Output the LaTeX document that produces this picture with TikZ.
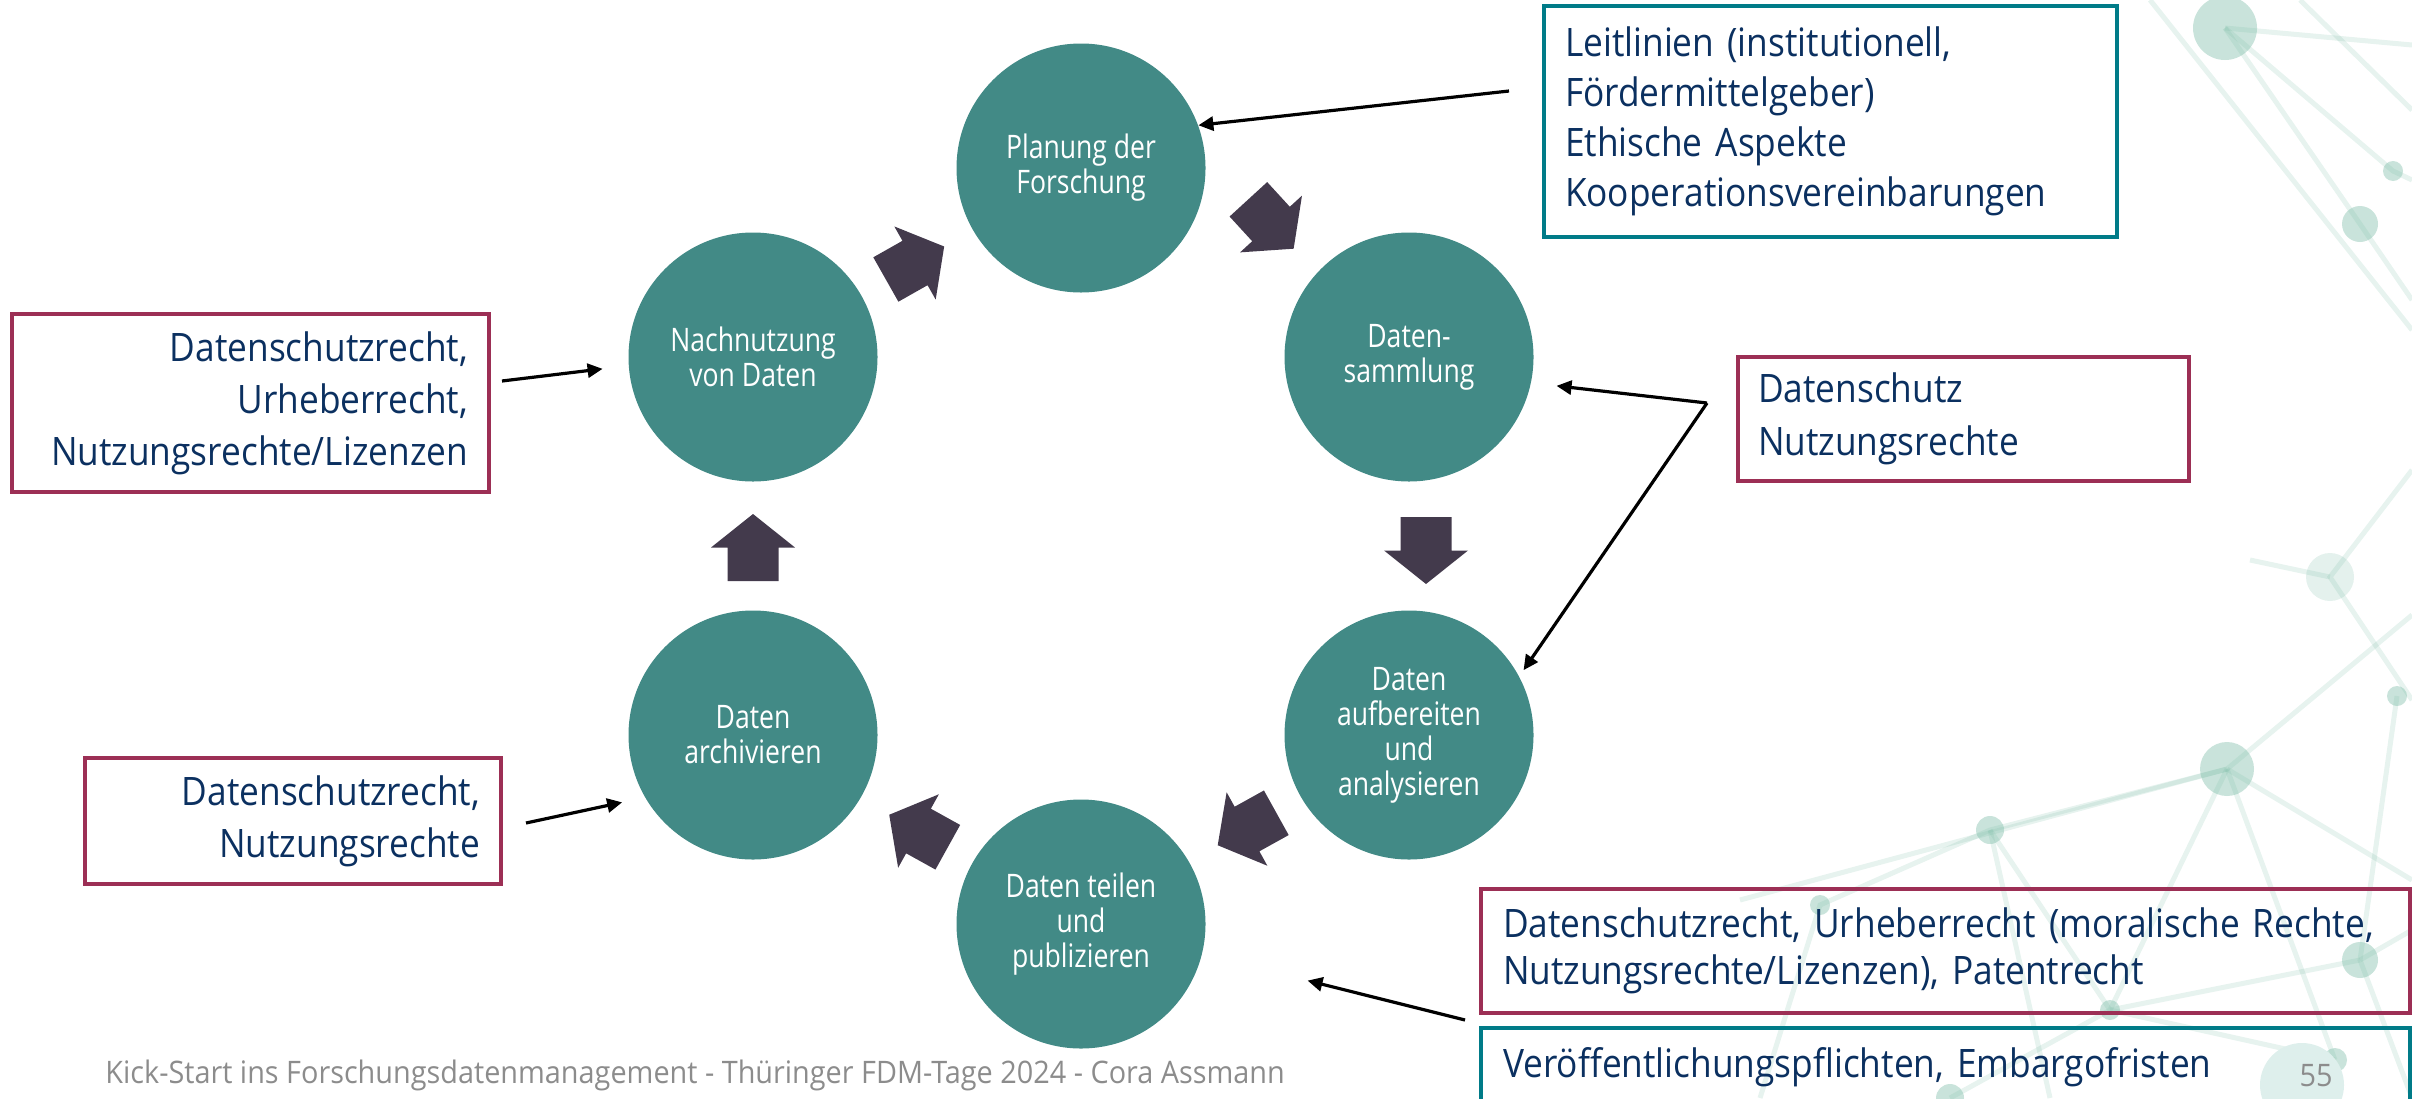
\documentclass[tikz,border=0pt]{standalone}
\usepackage{fontspec}
\setmainfont[FakeStretch=0.9]{Open Sans}
\newfontfamily\kreisfont[FakeStretch=0.82]{Open Sans}
\newfontfamily\fussfont[FakeStretch=0.93]{Open Sans}
\usetikzlibrary{arrows.meta}
\definecolor{kreisgruen}{RGB}{66,138,134}
\definecolor{pfeilgrau}{RGB}{67,58,76}
\definecolor{textblau}{RGB}{11,48,96}
\definecolor{rahmenrot}{RGB}{156,47,85}
\definecolor{rahmentuerkis}{RGB}{0,123,136}
\definecolor{netzgruen}{RGB}{120,186,164}
\definecolor{fussgrau}{RGB}{140,140,140}
\definecolor{seitenkreis}{RGB}{222,239,236}

\begin{document}
\begin{tikzpicture}[x=0.5pt,y=-0.5pt,
  kreis/.style={circle, fill=kreisgruen, minimum size=124.5pt, inner sep=0pt, text=white, align=center, font=\kreisfont\fontsize{16.2}{17.5}\selectfont},
  kasten/.style={draw, line width=2.25pt, outer sep=0pt, inner xsep=10.5pt, inner ysep=0pt, text=textblau, font=\fontsize{19.6}{26}\selectfont},
  zeiger/.style={line width=1.6pt, -{Triangle[length=7.5pt,width=7pt]}},
  netz/.style={netzgruen, line width=2.5pt, opacity=0.18},
  punkt/.style={netzgruen, opacity=0.4}]
\useasboundingbox (0,0) rectangle (2412,1098);
\clip (0,0) rectangle (2412,1098);

% network in the background
\draw[netz] (2225,28) -- (2412,45);
\draw[netz] (2225,28) -- (2360,224) -- (2412,300);
\draw[netz] (2225,28) -- (2393,171) -- (2412,180);
\draw[netz] (2150,0) -- (2412,330);
\draw[netz] (2300,0) -- (2412,110);
\draw[netz] (2412,470) -- (2330,577) -- (2412,700);
\draw[netz] (2330,577) -- (2250,560);
\draw[netz] (1740,900) -- (2227,769) -- (2412,615);
\draw[netz] (2227,769) -- (2412,880);
\draw[netz] (2227,769) -- (1990,830) -- (1820,905) -- (1760,1098);
\draw[netz] (2227,769) -- (2110,1010) -- (1950,1098);
\draw[netz] (2227,769) -- (2335,1060);
\draw[netz] (1990,830) -- (2110,1010) -- (2335,1060);
\draw[netz] (2360,960) -- (2412,930);
\draw[netz] (2360,960) -- (2110,1010);
\draw[netz] (2397,696) -- (2360,960) -- (2412,1098);
\draw[netz] (1990,830) -- (2050,1098);
\fill[punkt] (2225,28) circle (32);
\fill[punkt] (2393,171) circle (10);
\fill[punkt] (2360,224) circle (18);
\fill[punkt, opacity=0.2] (2330,577) circle (24);
\fill[punkt] (2397,696) circle (10);
\fill[punkt] (2227,769) circle (27);
\fill[punkt] (1990,830) circle (14);
\fill[punkt] (1820,905) circle (10);
\fill[punkt] (2360,960) circle (18);
\fill[punkt] (2335,1060) circle (12);
\fill[punkt] (2110,1010) circle (10);
\fill[punkt] (1950,1098) circle (14);

% cycle
\node[kreis] (plan) at (1081,168) {Planung der\\Forschung};
\node[kreis] (samm) at (1409,357) {Daten-\\sammlung};
\node[kreis] (aufb) at (1409,735) {Daten\\aufbereiten\\und\\analysieren};
\node[kreis] (teil) at (1081,924) {Daten teilen\\und\\publizieren};
\node[kreis] (arch) at (753,735) {Daten\\archivieren};
\node[kreis] (nach) at (753,357) {Nachnutzung\\von Daten};

\foreach \cx/\cy/\dreh in {915/263/29.5, 1271/224/-47.5, 1426/550.5/-90, 1247/829/-151, 918.5/831/151, 753/547.5/90}
  \fill[pfeilgrau, shift={(\cx,\cy)}, rotate=\dreh] (-33.5,-25.5) -- (0,-25.5) -- (0,-42) -- (33.5,0) -- (0,42) -- (0,25.5) -- (-33.5,25.5) -- cycle;

% legal aspects
\node[kasten, draw=rahmentuerkis, minimum width=286.5pt, minimum height=115.5pt, text width=265.5pt, align=left, font=\fontsize{19.6}{25}\selectfont] (leitl) at (1830.5,121.5) {Leitlinien (institutionell,\\Fördermittelgeber)\\Ethische Aspekte\\Kooperationsvereinbarungen};
\node[kasten, draw=rahmenrot, minimum width=238.5pt, minimum height=89pt, text width=217.5pt, align=right] (nutzl) at (250.5,403) {Datenschutzrecht,\\Urheberrecht,\\Nutzungsrechte/Lizenzen};
\node[kasten, draw=rahmenrot, minimum width=208pt, minimum height=63pt, text width=187pt, align=right] (archl) at (293,821) {Datenschutzrecht,\\Nutzungsrechte};
\node[kasten, draw=rahmenrot, minimum width=225.5pt, minimum height=62pt, text width=205.5pt, inner xsep=10pt, align=left, font=\fontsize{19.6}{26.5}\selectfont] (schutz) at (1963.5,419) {Datenschutz\\Nutzungsrechte};
\node[kasten, draw=rahmenrot, minimum width=464.5pt, minimum height=62pt, text width=442.5pt, inner xsep=11pt, align=left, font=\fontsize{19.6}{23.5}\selectfont] (recht) at (1945.5,951) {Datenschutzrecht, Urheberrecht (moralische Rechte,\\Nutzungsrechte/Lizenzen), Patentrecht};
\node[kasten, draw=rahmentuerkis, minimum width=464.5pt, minimum height=38pt, text width=442.5pt, inner xsep=11pt, text height=15pt, text depth=4pt, align=left] (pflicht) at (1945.5,1066) {Veröffentlichungspflichten, Embargofristen};

\coordinate (s1) at (1509,91);
\coordinate (s2) at (1707,403);
\coordinate (s3) at (502,381);
\coordinate (s4) at (526,823);
\coordinate (s5) at (1465,1020);
\draw[zeiger] (s1) -- (plan.20);
\draw[zeiger, shorten >=12.75pt] (s2) -- (samm.-12);
\draw[zeiger, shorten >=3.75pt] (s2) -- (aufb.28.5);
\draw[zeiger, shorten >=13pt] (s3) -- (nach.184);
\draw[zeiger, shorten >=11.6pt] (s4) -- (arch.210);
\draw[zeiger, shorten >=54.3pt] (s5) -- (teil.-14.2);

% footer
\node[anchor=base west, inner sep=0pt, text=fussgrau, font=\fussfont\fontsize{15.5}{18}\selectfont] (fuss) at (105,1083) {Kick-Start ins Forschungsdatenmanagement - Thüringer FDM-Tage 2024 - Cora Assmann};
\fill[seitenkreis] (2302,1085) circle (42);
\node[anchor=base, inner sep=0pt, text=fussgrau, font=\fussfont\fontsize{15.5}{18}\selectfont] (seite) at (2316,1086) {55};
\end{tikzpicture}
\end{document}
